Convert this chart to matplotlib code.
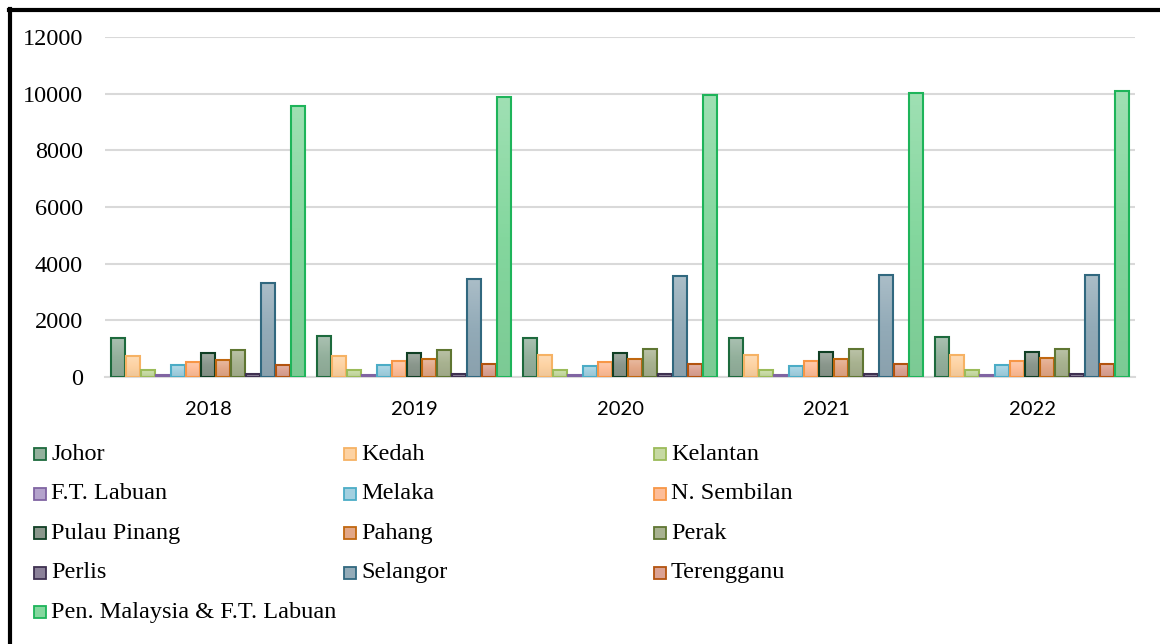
import matplotlib.pyplot as plt
from matplotlib.patches import Rectangle
from matplotlib.lines import Line2D
from matplotlib.colors import to_rgb, LinearSegmentedColormap
import numpy as np

# data
years = ['2018', '2019', '2020', '2021', '2022']
states = ['Johor', 'Kedah', 'Kelantan', 'F.T. Labuan', 'Melaka', 'N. Sembilan',
          'Pulau Pinang', 'Pahang', 'Perak', 'Perlis', 'Selangor', 'Terengganu',
          'Pen. Malaysia & F.T. Labuan']
johor = [1390, 1435, 1390, 1380, 1400]
kedah = [740, 750, 765, 775, 775]
kelantan = [250, 250, 250, 240, 250]
labuan = [65, 60, 60, 60, 60]
melaka = [415, 425, 400, 400, 425]
n_sembilan = [540, 555, 540, 555, 555]
pulau_pinang = [850, 850, 860, 870, 870]
pahang = [590, 625, 635, 645, 680]
perak = [940, 965, 975, 975, 1000]
perlis = [95, 95, 95, 95, 95]
selangor = [3310, 3460, 3560, 3600, 3590]
terengganu = [425, 450, 450, 470, 460]
pen_malaysia = [9570, 9880, 9950, 10030, 10090]

series = [johor, kedah, kelantan, labuan, melaka, n_sembilan, pulau_pinang,
          pahang, perak, perlis, selangor, terengganu, pen_malaysia]

fills = ['#93b09c', '#fdd2a2', '#c6d9a2', '#b4a3cc', '#a2d0e0', '#fdbd98',
         '#8a978c', '#e2a787', '#a8b290', '#8b8199', '#93abb8', '#dba293', '#84d79e']
edges = ['#1d6a3d', '#f6b264', '#9bbb59', '#8064a2', '#4bacc6', '#f79646',
         '#103f24', '#c0670f', '#5f7632', '#3f3151', '#31687f', '#b3530f', '#1eb45a']

plt.rcParams['font.family'] = ['Liberation Serif', 'DejaVu Serif']

fig = plt.figure(figsize=(11.6, 6.44), dpi=100)
ax = fig.add_axes([105 / 1160, 1 - 377 / 644, 1030 / 1160, 340 / 644])

x = np.arange(len(years))
n = len(states)
step = 0.0732
width = 0.068
grad = np.linspace(0, 1, 64).reshape(-1, 1)
for i in range(n):
    offs = (i - (n - 1) / 2) * step
    bars = ax.bar(x + offs, series[i], width, color=fills[i], edgecolor=edges[i],
                  linewidth=1.5, zorder=3)
    # soft vertical gradient inside each bar, lighter at the top
    base = np.array(to_rgb(fills[i]))
    cmap = LinearSegmentedColormap.from_list(
        'g%d' % i, [base * 0.94, base, base + (1 - base) * 0.22])
    for b in bars:
        bx, by = b.get_x(), b.get_y()
        im = ax.imshow(grad, cmap=cmap, origin='lower', aspect='auto',
                       extent=(bx, bx + b.get_width(), by, by + b.get_height()),
                       zorder=3.5)
        im.set_clip_path(b)
        b.set_facecolor('none')
        b.set_zorder(4)

ax.set_xlim(-0.5, len(years) - 0.5)
ax.set_ylim(0, 12000)
ax.set_yticks(range(0, 12001, 2000))
ax.set_xticks(x)
ax.set_xticklabels(years, fontfamily='Lato', fontsize=14.5)
ax.tick_params(axis='y', labelsize=17.5, length=0, pad=16,
               labelfontfamily='Liberation Serif')
ax.tick_params(axis='x', length=0, pad=17)
ax.grid(axis='y', color='#d9d9d9', linewidth=1.5, zorder=0)
for s in ['top', 'right', 'left']:
    ax.spines[s].set_visible(False)
ax.spines['bottom'].set_color('#d9d9d9')
ax.spines['bottom'].set_linewidth(1.5)

# legend laid out row by row, three columns
for k in range(n):
    row, col = divmod(k, 3)
    px = 34 + col * 310
    py = 454 + row * 39.6
    fig.add_artist(Rectangle((px / 1160, 1 - (py + 6) / 644), 12 / 1160, 12 / 644,
                             facecolor=fills[k], edgecolor=edges[k], linewidth=1.3,
                             transform=fig.transFigure))
    fig.text((px + 17) / 1160, 1 - py / 644, states[k], fontsize=17.5,
             va='center', ha='left')

# black frame on left and top
fig.add_artist(Line2D([10 / 1160, 10 / 1160], [0, 1 - 9 / 644], color='black',
                      linewidth=3, transform=fig.transFigure))
fig.add_artist(Line2D([9 / 1160, 1], [1 - 10 / 644, 1 - 10 / 644], color='black',
                      linewidth=3, transform=fig.transFigure))

fig.savefig('out.png', dpi=100)
